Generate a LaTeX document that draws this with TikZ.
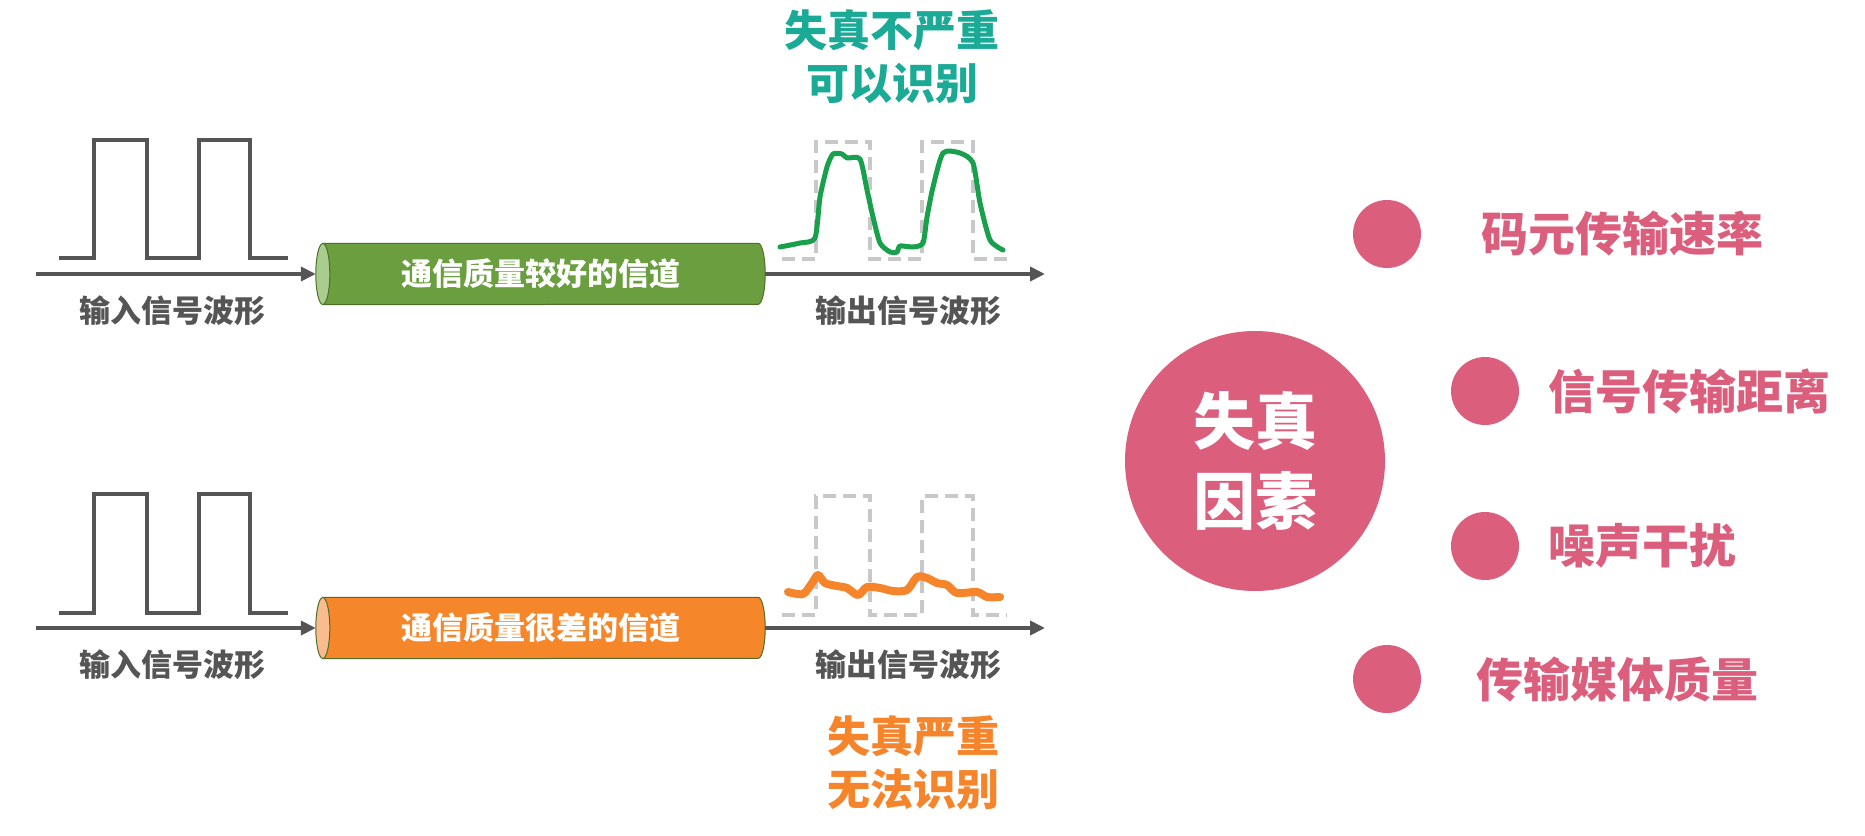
\documentclass[tikz,border=0pt]{standalone}
\usepackage{fontspec}
\newfontfamily\cjk[BoldFont={Noto Sans CJK SC Black}]{Noto Sans CJK SC}
\usetikzlibrary{positioning, arrows.meta, backgrounds}

\definecolor{wavegray}{HTML}{555555}
\definecolor{dashgray}{HTML}{C8C8C8}
\definecolor{goodbody}{HTML}{6A9E3E}
\definecolor{goodend}{HTML}{A9CD8E}
\definecolor{chanedge}{HTML}{4E6E2A}
\definecolor{badbody}{HTML}{F5862A}
\definecolor{badend}{HTML}{F9BC8E}
\definecolor{curvegreen}{HTML}{18A04C}
\definecolor{okteal}{HTML}{1AAA96}
\definecolor{warnorange}{HTML}{F5842A}
\definecolor{factorpink}{HTML}{DC5E7D}

\begin{document}
\begin{tikzpicture}[
    x=1pt, y=-1pt,
    wave/.style={wavegray, line width=4pt},
    ideal/.style={dashgray, line width=4pt, dash pattern=on 13pt off 7pt},
    axis/.style={wavegray, line width=4pt, -{Triangle[length=15pt, width=14pt]}},
    chan/.style={minimum width=435pt, minimum height=61pt, inner sep=0pt, text=white, font=\cjk\bfseries\fontsize{31}{31}\selectfont},
    caption/.style={text=wavegray, font=\cjk\bfseries\fontsize{31}{31}\selectfont},
    verdict/.style={align=center, font=\cjk\bfseries\fontsize{43}{53}\selectfont},
    dot/.style={circle, fill=factorpink, minimum size=68pt, inner sep=0pt},
    factor/.style={text=factorpink, inner sep=0pt, font=\cjk\bfseries\fontsize{47}{47}\selectfont}
  ]
    \useasboundingbox (0,0) rectangle (1865,835);

    % good channel
    \draw[wave] (59,258) -- (94,258) -- (94,140) -- (147,140) -- (147,258) -- (199,258) -- (199,140) -- (250,140) -- (250,258) -- (288,258);
    \node[chan] (good) at (540.5,274) {通信质量较好的信道};
    \begin{scope}[on background layer]
      \draw[chanedge, line width=1pt, fill=goodbody] (good.north west) -- (good.north east)
        arc[start angle=-90, end angle=90, x radius=7, y radius=30.5] -- (good.south west) -- cycle;
      \draw[chanedge, line width=1pt, fill=goodend] (good.west) ellipse[x radius=7, y radius=30.5];
    \end{scope}
    \coordinate (inA) at (36,274);
    \coordinate (outA) at (1045,274);
    \draw[axis] (inA) -- ([xshift=-7pt]good.west);
    \draw[axis] ([xshift=7pt]good.east) -- (outA);
    \node[caption] (capInA) at (172,311) {输入信号波形};
    \node[caption] (capOutA) at (908,311) {输出信号波形};
    \draw[ideal] (782,259) -- (816,259) -- (816,142) -- (870,142) -- (870,259) -- (922,259) -- (922,142) -- (973,142) -- (973,259) -- (1007,259);
    \draw[curvegreen, line width=5pt, line join=round, line cap=round] plot[smooth, tension=0.4] coordinates {
      (780,247) (800,243) (815,238) (820,197) (827,167) (833,154) (842,154) (847,158) (860,159)
      (867,190) (873,217) (880,243) (890,252) (897,252) (900,246) (913,247) (923,243) (927,217)
      (933,187) (943,153) (960,153) (973,163) (980,203) (990,240) (1003,250)};
    \node[verdict, text=okteal] (okA) at (892,57) {失真不严重\\可以识别};

    % bad channel
    \draw[wave] (59,613) -- (94,613) -- (94,494) -- (147,494) -- (147,613) -- (199,613) -- (199,494) -- (250,494) -- (250,613) -- (288,613);
    \node[chan] (bad) at (540.5,628) {通信质量很差的信道};
    \begin{scope}[on background layer]
      \draw[chanedge, line width=1pt, fill=badbody] (bad.north west) -- (bad.north east)
        arc[start angle=-90, end angle=90, x radius=7, y radius=30.5] -- (bad.south west) -- cycle;
      \draw[chanedge, line width=1pt, fill=badend] (bad.west) ellipse[x radius=7, y radius=30.5];
    \end{scope}
    \coordinate (inB) at (36,628);
    \coordinate (outB) at (1045,628);
    \draw[axis] (inB) -- ([xshift=-7pt]bad.west);
    \draw[axis] ([xshift=7pt]bad.east) -- (outB);
    \node[caption] (capInB) at (172,665) {输入信号波形};
    \node[caption] (capOutB) at (908,665) {输出信号波形};
    \draw[ideal] (782,615) -- (816,615) -- (816,496) -- (870,496) -- (870,615) -- (922,615) -- (922,496) -- (973,496) -- (973,615) -- (1007,615);
    \draw[warnorange, line width=8pt, line join=round, line cap=round] plot[smooth, tension=0.5] coordinates {
      (788,592) (803,594) (812,583) (818,575) (825,583) (837,586) (847,588) (858,595) (867,587)
      (880,588) (893,591) (907,590) (917,577) (927,578) (937,583) (947,585) (957,593) (977,592)
      (987,597) (1000,597)};
    \node[verdict, text=warnorange] (badB) at (913,763) {失真严重\\无法识别};

    % causes of distortion
    \node[circle, fill=factorpink, minimum size=260pt, inner sep=0pt, text=white, align=center,
      font=\cjk\bfseries\fontsize{62}{80}\selectfont] (cause) at (1255,461) {失真\\因素};
    \node[dot] (d1) at (1387,234) {};
    \node[dot] (d2) at (1485,391) {};
    \node[dot] (d3) at (1485,546) {};
    \node[dot] (d4) at (1387,679) {};
    \node[factor, right=60pt of d1] (f1) {码元传输速率};
    \node[factor, right=29pt of d2] (f2) {信号传输距离};
    \node[factor, right=29pt of d3] (f3) {噪声干扰};
    \node[factor, right=55pt of d4] (f4) {传输媒体质量};
  \end{tikzpicture}
\end{document}
